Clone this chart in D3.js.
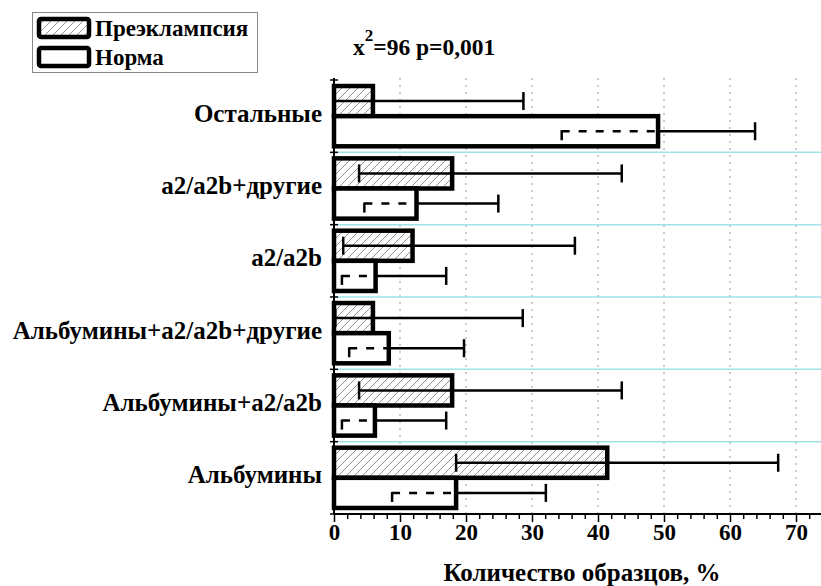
<!DOCTYPE html>
<html>
<head>
<meta charset="utf-8">
<script src="https://cdn.jsdelivr.net/npm/d3@7"></script>
<style>
  body { margin: 0; background: #fff; }
</style>
</head>
<body>
<div id="chart"></div>
<script>
// categories top to bottom
const categories = ["Остальные", "a2/a2b+другие", "a2/a2b", "Альбумины+a2/a2b+другие", "Альбумины+a2/a2b", "Альбумины"];
const groups = ["Преэклампсия", "Норма"];

const preValues = [5.9, 17.9, 11.9, 5.9, 17.9, 41.4];
const preLow = [0, 3.8, 1.4, 0.2, 3.8, 18.5];
const preHigh = [28.7, 43.6, 36.5, 28.6, 43.6, 67.3];

const normValues = [49.1, 12.5, 6.3, 8.3, 6.2, 18.5];
const normLow = [34.5, 4.6, 1.2, 2.3, 1.2, 8.8];
const normHigh = [63.8, 24.9, 17, 19.7, 17, 32.1];

const majorTicks = [0, 10, 20, 30, 40, 50, 60, 70];

const FONT = "'Liberation Serif', 'Times New Roman', Tinos, 'DejaVu Serif', serif";

const W = 821, H = 586;
const margins = {top: 80, left: 334, bottom: 72};
const width = W - margins.left;
const height = H - margins.top - margins.bottom;

const svg = d3.select('#chart').append('svg').attr('width', W).attr('height', H)
    .style('font-family', FONT).style('font-weight', 'bold');

const defs = svg.append('defs');
const hatch = defs.append('pattern')
    .attr('id', 'hatch')
    .attr('patternUnits', 'userSpaceOnUse')
    .attr('width', 8).attr('height', 8);
hatch.append('rect').attr('width', 8).attr('height', 8).attr('fill', '#fff');
hatch.append('path')
    .attr('d', 'M0,8 L8,0 M-2,2 L2,-2 M6,10 L10,6')
    .attr('stroke', '#777').attr('stroke-width', 0.8);

const g = svg.append('g').attr('transform', `translate(${margins.left}, ${margins.top})`);

const x = d3.scaleLinear().domain([0, 70]).range([0, 462]);
const y = d3.scaleBand().domain(categories).range([0, height]);
const ySub = d3.scaleBand().domain(groups).range([0, y.bandwidth()]).paddingOuter(0.2);

// grid
g.selectAll('.grid')
    .data(majorTicks.slice(1))
    .enter()
    .append('line')
    .attr('x1', d => x(d)).attr('x2', d => x(d))
    .attr('y1', -2).attr('y2', height)
    .attr('stroke', '#999')
    .attr('stroke-width', 1)
    .attr('stroke-dasharray', '2 5');

// cyan separators
g.selectAll('.sep')
    .data(categories.slice(1))
    .enter()
    .append('line')
    .attr('x1', 0).attr('x2', width)
    .attr('y1', d => y(d)).attr('y2', d => y(d))
    .attr('stroke', '#9fe3e8')
    .attr('stroke-width', 1.5);

const rows = categories.map((c, i) => ({
    cat: c,
    pre: {v: preValues[i], lo: preLow[i], hi: preHigh[i]},
    norm: {v: normValues[i], lo: normLow[i], hi: normHigh[i]}
}));

// bars
rows.forEach(r => {
    const y0 = y(r.cat);
    g.append('rect')
        .attr('x', x(0))
        .attr('y', y0 + ySub('Преэклампсия'))
        .attr('width', x(r.pre.v))
        .attr('height', ySub.bandwidth())
        .attr('fill', 'url(#hatch)')
        .attr('stroke', '#000')
        .attr('stroke-width', 4.5);
    g.append('rect')
        .attr('x', x(0))
        .attr('y', y0 + ySub('Норма'))
        .attr('width', x(r.norm.v))
        .attr('height', ySub.bandwidth())
        .attr('fill', '#fff')
        .attr('stroke', '#000')
        .attr('stroke-width', 4.5);
});

// error bars
const cap = 9;
rows.forEach(r => {
    const y0 = y(r.cat);
    let cy = y0 + ySub('Преэклампсия') + ySub.bandwidth() / 2;
    g.append('line')
        .attr('x1', x(r.pre.lo)).attr('x2', x(r.pre.hi))
        .attr('y1', cy).attr('y2', cy)
        .attr('stroke', '#000').attr('stroke-width', 2.5);
    [r.pre.lo, r.pre.hi].forEach(v => {
        g.append('line')
            .attr('x1', x(v)).attr('x2', x(v))
            .attr('y1', cy - cap).attr('y2', cy + cap)
            .attr('stroke', '#000').attr('stroke-width', 2.5);
    });

    cy = y0 + ySub('Норма') + ySub.bandwidth() / 2;
    // lower whisker inside the bar is dashed
    g.append('line')
        .attr('x1', x(r.norm.lo)).attr('x2', x(r.norm.v))
        .attr('y1', cy).attr('y2', cy)
        .attr('stroke', '#000').attr('stroke-width', 2.5)
        .attr('stroke-dasharray', '8 9');
    g.append('line')
        .attr('x1', x(r.norm.lo)).attr('x2', x(r.norm.lo))
        .attr('y1', cy - 1).attr('y2', cy + cap)
        .attr('stroke', '#000').attr('stroke-width', 2.5);
    g.append('line')
        .attr('x1', x(r.norm.v)).attr('x2', x(r.norm.hi))
        .attr('y1', cy).attr('y2', cy)
        .attr('stroke', '#000').attr('stroke-width', 2.5);
    g.append('line')
        .attr('x1', x(r.norm.hi)).attr('x2', x(r.norm.hi))
        .attr('y1', cy - cap).attr('y2', cy + cap)
        .attr('stroke', '#000').attr('stroke-width', 2.5);
});

// x axis
const minorTicks = d3.range(0, 74, 2).filter(d => d % 10 !== 0);
g.append('g')
    .attr('transform', `translate(0, ${height})`)
    .call(d3.axisBottom(x).tickValues(minorTicks).tickSize(5).tickFormat(''))
    .call(a => a.select('.domain').remove())
    .call(a => a.selectAll('line').attr('stroke-width', 1.5));
const xAxis = g.append('g')
    .attr('transform', `translate(0, ${height})`)
    .call(d3.axisBottom(x).tickValues(majorTicks).tickSize(8).tickPadding(2))
    .attr('font-family', null)
    .attr('font-size', null);
xAxis.select('.domain').remove();
xAxis.selectAll('line').attr('stroke-width', 1.5);
xAxis.selectAll('text').style('font-size', '23px').style('font-family', FONT).style('font-weight', 'bold');
g.append('line')
    .attr('x1', 0).attr('x2', width)
    .attr('y1', height).attr('y2', height)
    .attr('stroke', '#000').attr('stroke-width', 2);

// y axis
g.append('line')
    .attr('x1', 0).attr('x2', 0)
    .attr('y1', -2).attr('y2', height)
    .attr('stroke', '#000').attr('stroke-width', 2);
g.selectAll('.ytick')
    .data(categories.concat(['__top']))
    .enter()
    .append('line')
    .attr('x1', -4).attr('x2', 4)
    .attr('y1', d => d === '__top' ? 0 : y(d) + y.bandwidth())
    .attr('y2', d => d === '__top' ? 0 : y(d) + y.bandwidth())
    .attr('stroke', '#000').attr('stroke-width', 1.5);

g.selectAll('.ylabel')
    .data(categories)
    .enter()
    .append('text')
    .attr('x', -12)
    .attr('y', d => y(d) + y.bandwidth() / 2)
    .attr('dy', '0.22em')
    .attr('text-anchor', 'end')
    .style('font-size', '25px')
    .text(d => d);

// axis title
svg.append('text')
    .attr('x', 582)
    .attr('y', 581)
    .attr('text-anchor', 'middle')
    .style('font-size', '25px')
    .text('Количество образцов, %');

// stat note
const note = svg.append('text')
    .attr('x', 353)
    .attr('y', 55)
    .style('font-size', '23.5px');
note.append('tspan').text('x');
note.append('tspan').attr('dy', -14).style('font-size', '17px').text('2');
note.append('tspan').attr('dy', 14).text('=96 p=0,001');

// legend
const legend = svg.append('g').attr('class', 'legend');
legend.append('rect')
    .attr('x', 32.5).attr('y', 12.5)
    .attr('width', 225).attr('height', 60)
    .attr('fill', '#fff')
    .attr('stroke', '#888').attr('stroke-width', 1);
legend.selectAll('.sw')
    .data(groups)
    .enter()
    .append('rect')
    .attr('x', 39)
    .attr('y', (d, i) => 19 + i * 29)
    .attr('width', 50)
    .attr('height', 18)
    .attr('rx', 2)
    .attr('fill', d => d === 'Преэклампсия' ? 'url(#hatch)' : '#fff')
    .attr('stroke', '#000')
    .attr('stroke-width', 4.5);
legend.selectAll('.lt')
    .data(groups)
    .enter()
    .append('text')
    .attr('x', 95)
    .attr('y', (d, i) => 36 + i * 29)
    .style('font-size', '23px')
    .text(d => d);
</script>
</body>
</html>
